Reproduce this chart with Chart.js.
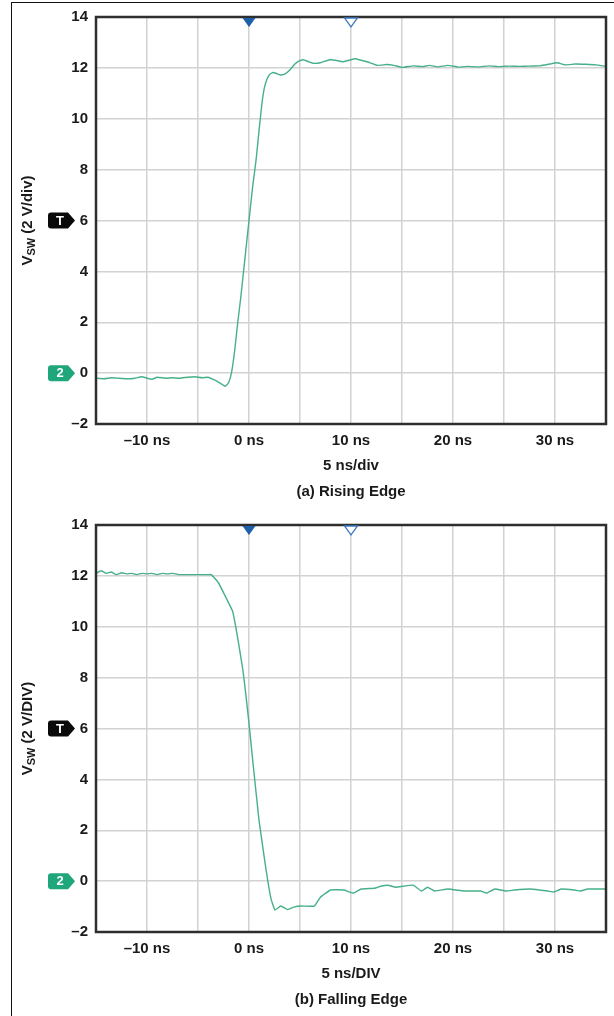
<!DOCTYPE html>
<html>
<head>
<meta charset="utf-8">
<script src="https://cdn.jsdelivr.net/npm/chart.js@4.4.1/dist/chart.umd.min.js"></script>
<style>
  html, body { margin: 0; padding: 0; background: #fff; width: 614px; height: 1016px; overflow: hidden; }
  #frame { position: absolute; left: 11px; top: 2px; width: 640px; height: 1040px; border-left: 1.5px solid #111; border-top: 1.5px solid #111; }
  canvas { position: absolute; left: 0; }
  #c1 { top: 0; }
  #c2 { top: 508px; }
</style>
</head>
<body>
<div id="frame"></div>
<canvas id="c1" width="614" height="508"></canvas>
<canvas id="c2" width="614" height="508"></canvas>
<script>
// ---- data ----
const risingTime = [-15,-14.2,-13.5,-12.8,-12,-11.2,-10.5,-10,-9.5,-9,-8.2,-7.5,-6.8,-6,-5.3,-4.6,-4,-3.5,-3,-2.6,-2.35,-2.0,-1.7,-1.4,-1.1,-0.8,-0.4,0,0.35,0.7,1.0,1.27,1.5,1.76,2.05,2.35,2.7,3.04,3.5,4.0,4.5,4.8,5.3,5.8,6.3,7.0,7.9,8.5,9.2,9.8,10.4,11.0,11.6,12.6,13.5,14.2,15,16.1,17,17.7,18.5,19.5,20.5,21.5,22.5,23.5,24.5,25.5,26.5,27.5,28.5,29.5,30.2,31,32,33,34,35];
const risingVolts = [-0.2,-0.22,-0.18,-0.2,-0.22,-0.2,-0.14,-0.2,-0.24,-0.16,-0.2,-0.18,-0.2,-0.16,-0.14,-0.18,-0.16,-0.25,-0.35,-0.45,-0.52,-0.38,0.05,0.9,2.0,3.0,4.5,6.0,7.3,8.4,9.6,10.6,11.2,11.55,11.75,11.82,11.78,11.72,11.75,11.92,12.15,12.25,12.32,12.25,12.18,12.2,12.32,12.3,12.24,12.3,12.36,12.3,12.24,12.1,12.13,12.1,12.02,12.08,12.05,12.1,12.04,12.1,12.03,12.06,12.04,12.08,12.05,12.07,12.06,12.07,12.08,12.15,12.2,12.12,12.15,12.14,12.12,12.06];

const fallingTime = [-15,-14.5,-14,-13.5,-13,-12.5,-12,-11.5,-11,-10.5,-10,-9.5,-9,-8.5,-8,-7.5,-7,-6.5,-6,-5.5,-5,-4.5,-4,-3.7,-3.0,-2.45,-1.6,-1.3,-1.0,-0.6,-0.3,0,0.3,0.98,1.67,2.16,2.55,3.1,3.8,4.4,5.1,6.4,7.0,8.0,9.3,10.2,11.0,12.3,12.9,13.6,14.4,15.1,16.1,16.9,17.5,18.2,19.5,21.1,22.7,23.3,24.1,25.2,26,27.6,29.3,29.9,30.6,31.9,32.5,33.2,35];
const fallingVolts = [12.1,12.2,12.1,12.15,12.05,12.12,12.08,12.1,12.05,12.1,12.08,12.1,12.05,12.1,12.08,12.1,12.06,12.05,12.05,12.05,12.05,12.05,12.05,12.05,11.73,11.3,10.6,10.0,9.3,8.3,7.3,6.2,5.0,2.4,0.45,-0.7,-1.14,-0.98,-1.12,-1.02,-0.98,-0.98,-0.63,-0.35,-0.35,-0.47,-0.31,-0.28,-0.2,-0.16,-0.24,-0.2,-0.16,-0.39,-0.24,-0.39,-0.31,-0.39,-0.39,-0.47,-0.31,-0.39,-0.35,-0.31,-0.39,-0.43,-0.31,-0.35,-0.39,-0.31,-0.31];

const xTickLabels = [-10, 0, 10, 20, 30];   // labelled time ticks (ns)
const yTickLabels = [-2, 0, 2, 4, 6, 8, 10, 12, 14];
const timeMarkers = [0, 10];                 // filled trigger, hollow delay marker
const levelTags = [{ v: 6, text: 'T' }, { v: 0, text: '2' }];

const FONT = '"Liberation Sans", Arial, Helvetica, sans-serif';
const TRACE = '#46b088';

const scopeDecor = {
  id: 'scopeDecor',
  afterDraw(chart, args, opts) {
    const ctx = chart.ctx, a = chart.chartArea;
    const xs = chart.scales.x, ys = chart.scales.y;
    ctx.save();
    // plot frame
    ctx.strokeStyle = '#2e2e2e';
    ctx.lineWidth = 2.5;
    ctx.strokeRect(a.left, a.top, a.right - a.left, a.bottom - a.top);
    // time markers (triangles at top)
    timeMarkers.forEach((t, i) => {
      const px = xs.getPixelForValue(t);
      ctx.beginPath();
      ctx.moveTo(px - 6.5, a.top + 1);
      ctx.lineTo(px + 6.5, a.top + 1);
      ctx.lineTo(px, a.top + 10);
      ctx.closePath();
      if (i === 0) { ctx.fillStyle = '#1d5fa8'; ctx.fill(); }
      else { ctx.fillStyle = '#fff'; ctx.fill(); ctx.strokeStyle = '#3d78c0'; ctx.lineWidth = 1.3; ctx.stroke(); }
    });
    // level tags
    levelTags.forEach(tag => {
      const py = ys.getPixelForValue(tag.v);
      const x0 = 48, x1 = 68, tip = 75, h = 8, r = 3;
      ctx.beginPath();
      ctx.moveTo(x0 + r, py - h);
      ctx.lineTo(x1, py - h);
      ctx.lineTo(tip, py);
      ctx.lineTo(x1, py + h);
      ctx.lineTo(x0 + r, py + h);
      ctx.quadraticCurveTo(x0, py + h, x0, py + h - r);
      ctx.lineTo(x0, py - h + r);
      ctx.quadraticCurveTo(x0, py - h, x0 + r, py - h);
      ctx.closePath();
      ctx.fillStyle = tag.text === 'T' ? '#0a0a0a' : '#1fa67a';
      ctx.fill();
      ctx.fillStyle = '#fff';
      ctx.font = 'bold 13px ' + FONT;
      ctx.textAlign = 'center';
      ctx.textBaseline = 'middle';
      ctx.fillText(tag.text, 60, py + 0.5);
    });
    // y-axis title with subscript, rotated
    const cy = (a.top + a.bottom) / 2;
    ctx.translate(27, cy);
    ctx.rotate(-Math.PI / 2);
    ctx.fillStyle = '#1a1a1a';
    ctx.textBaseline = 'alphabetic';
    ctx.textAlign = 'left';
    const mainF = 'bold 15px ' + FONT, subF = 'bold 11px ' + FONT;
    ctx.font = mainF; const wV = ctx.measureText('V').width;
    ctx.font = subF; const wS = ctx.measureText('SW').width;
    ctx.font = mainF; const wR = ctx.measureText(' ' + opts.yUnit).width;
    let x = -(wV + wS + wR) / 2;
    const base = 5;
    ctx.font = mainF; ctx.fillText('V', x, base); x += wV;
    ctx.font = subF; ctx.fillText('SW', x, base + 3); x += wS;
    ctx.font = mainF; ctx.fillText(' ' + opts.yUnit, x, base);
    ctx.setTransform(1, 0, 0, 1, 0, 0);
    // x-axis title and caption
    const cx = (a.left + a.right) / 2;
    ctx.font = 'bold 15px ' + FONT;
    ctx.textAlign = 'center';
    ctx.textBaseline = 'middle';
    ctx.fillStyle = '#1a1a1a';
    ctx.fillText(opts.xUnit, cx, a.bottom + 42);
    ctx.fillText(opts.caption, cx, a.bottom + 68);
    ctx.restore();
  }
};

function makeChart(id, times, volts, yUnit, xUnit, caption, padTop) {
  const pts = times.map((t, i) => ({ x: t, y: volts[i] }));
  return new Chart(document.getElementById(id), {
    type: 'line',
    data: { datasets: [{ data: pts, borderColor: TRACE, borderWidth: 1.4, pointRadius: 0, tension: 0.1, fill: false }] },
    options: {
      responsive: false, animation: false, devicePixelRatio: 1,
      layout: { padding: { top: padTop, right: 7, left: 0, bottom: 0 } },
      plugins: { legend: { display: false }, tooltip: { enabled: false }, scopeDecor: { yUnit, xUnit, caption } },
      scales: {
        x: {
          type: 'linear', min: -15, max: 35,
          afterFit(s) { s.height = 84; },
          grid: { color: '#d2d2d2', lineWidth: 1.5, drawTicks: false },
          border: { display: false },
          ticks: {
            stepSize: 5, padding: 8, color: '#1a1a1a', font: { family: FONT, size: 15, weight: 'bold' },
            maxRotation: 0, autoSkip: false,
            callback: v => xTickLabels.includes(v) ? (v < 0 ? '\u2013' + Math.abs(v) : v) + ' ns' : ''
          }
        },
        y: {
          min: -2, max: 14,
          afterFit(s) { s.width = 96; },
          grid: { color: '#d2d2d2', lineWidth: 1.5, drawTicks: false },
          border: { display: false },
          ticks: {
            stepSize: 2, padding: 8, color: '#1a1a1a', font: { family: FONT, size: 15, weight: 'bold' },
            callback: v => yTickLabels.includes(v) ? (v < 0 ? '\u2013' + Math.abs(v) : String(v)) : ''
          }
        }
      }
    },
    plugins: [scopeDecor]
  });
}

makeChart('c1', risingTime, risingVolts, '(2 V/div)', '5 ns/div', '(a) Rising Edge', 15);
makeChart('c2', fallingTime, fallingVolts, '(2 V/DIV)', '5 ns/DIV', '(b) Falling Edge', 17);
</script>
</body>
</html>
